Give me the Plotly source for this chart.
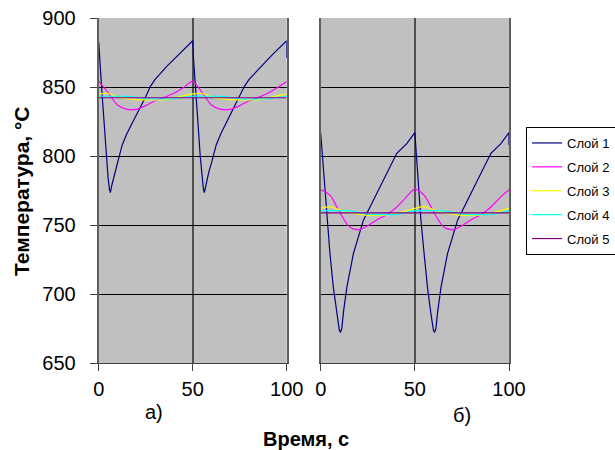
import plotly.graph_objects as go

# ---------------- data ----------------
series_names = ["Слой 1", "Слой 2", "Слой 3", "Слой 4", "Слой 5"]
series_colors = ["#000080", "#FF00FF", "#FFFF00", "#00FFFF", "#800080"]

x_ticks = [0, 50, 100]
y_ticks = [650, 700, 750, 800, 850, 900]

# Panel a) - layer 1 (fine time steps)
t1_a = [0, 0.4, 1.2, 2, 3, 4, 5, 5.7, 6.2, 7, 8.5, 10.4, 12.5, 14.9, 17.5, 20.2, 22.5, 25, 27.5, 30,
        33, 36.2, 40, 43.2, 46.5, 50,
        50.4, 51.2, 52, 53, 54, 55, 55.7, 56.2, 57, 58.5, 60.4, 62.5, 64.9, 67.5, 70.2, 72.5, 75, 77.5, 80,
        83, 86.2, 90, 93.2, 96.5, 100, 100]
T1_a = [882.5, 871, 857, 841, 820, 800, 784, 776, 773.5, 779, 788, 797, 808, 816, 823, 830, 836, 843, 850.5, 855.5,
        860, 865, 870, 874.5, 879, 883.5,
        871, 857, 841, 820, 800, 784, 776, 773.5, 779, 788, 797, 808, 816, 823, 830, 836, 843, 850.5, 855.5,
        860, 865, 870, 874.5, 879, 883.5, 871]

# Panel b) - layer 1
t1_b = [0, 0.3, 1.4, 3.2, 4.9, 6.7, 8.5, 9.9, 10.5, 11.2, 12.1, 13.9, 17.4, 22.7, 26.2, 31.5, 36.8, 40.4, 45.7, 50,
        50.3, 51.4, 53.2, 54.9, 56.7, 58.5, 59.9, 60.5, 61.2, 62.1, 63.9, 67.4, 72.7, 76.2, 81.5, 86.8, 90.4, 95.7,
        100, 100]
T1_b = [816.5, 811, 790, 754, 729.5, 705, 686, 673.5, 672.5, 675, 687, 705, 729.5, 753.5, 763, 778, 792, 802, 809, 817,
        811, 790, 754, 729.5, 705, 686, 673.5, 672.5, 675, 687, 705, 729.5, 753.5, 763, 778, 792, 802, 809,
        817, 808]

# Layers 2-5 on a common time grid
t_s = [0, 5, 10, 15, 20, 25, 30, 35, 40, 45, 50, 55, 60, 65, 70, 75, 80, 85, 90, 95, 100]

T2_a = [854, 846, 837, 833.8, 833.8, 836.5, 840, 842.5, 845.5, 849.5, 854,
        846, 837, 833.8, 833.8, 836.5, 840, 842.5, 845.5, 849.5, 854]
T3_a = [845, 845.3, 842.8, 841.5, 840.8, 840.6, 840.6, 840.9, 842, 843.6, 845,
        845.3, 842.8, 841.5, 840.8, 840.6, 840.6, 840.9, 842, 843.6, 845]
T4_a = [843.3, 843.3, 843.3, 843.2, 842.5, 841.5, 841.3, 841.3, 841.5, 842.5, 843.3,
        843.3, 843.3, 843.2, 842.5, 841.5, 841.3, 841.3, 841.5, 842.5, 843.3]
T5_a = [842.2, 842.2, 842.2, 842.2, 842.2, 842.2, 842.2, 842.2, 842.2, 842.2, 842.2,
        842.2, 842.2, 842.2, 842.2, 842.2, 842.2, 842.2, 842.2, 842.2, 842.2]

T2_b = [775.5, 771.5, 759.5, 749, 746.5, 749.5, 753.8, 757.5, 762.5, 769.5, 776,
        771.5, 759.5, 749, 746.5, 749.5, 753.8, 757.5, 762.5, 769.5, 775.5]
T3_b = [762, 763.3, 761, 759.3, 757.8, 757, 757, 757.3, 758.5, 760, 762,
        763.3, 761, 759.3, 757.8, 757, 757, 757.3, 758.5, 760, 762]
T4_b = [760.4, 760.4, 760.4, 760.2, 759.2, 758, 757.5, 757.5, 757.7, 758.8, 760.4,
        760.4, 760.4, 760.2, 759.2, 758, 757.5, 757.5, 757.7, 758.8, 760.4]
T5_b = [758.8, 758.8, 758.8, 758.8, 758.8, 758.8, 758.8, 758.8, 758.8, 758.8, 758.8,
        758.8, 758.8, 758.8, 758.8, 758.8, 758.8, 758.8, 758.8, 758.8, 758.8]

panel_labels = ["а)", "б)"]
x_title = "Время, с"
y_title = "Температура, °С"

# ---------------- figure ----------------
FONT = "Arial, Liberation Sans, sans-serif"
fig = go.Figure()

panel_a = [(t1_a, T1_a), (t_s, T2_a), (t_s, T3_a), (t_s, T4_a), (t_s, T5_a)]
panel_b = [(t1_b, T1_b), (t_s, T2_b), (t_s, T3_b), (t_s, T4_b), (t_s, T5_b)]

for i, (tt, vv) in enumerate(panel_a):
    fig.add_trace(go.Scatter(
        x=tt, y=vv, mode="lines", name=series_names[i],
        line=dict(color=series_colors[i], width=1.2, shape="linear" if i == 0 else "spline",
                  smoothing=0.8),
        legendgroup=series_names[i], showlegend=True, xaxis="x", yaxis="y"))
for i, (tt, vv) in enumerate(panel_b):
    fig.add_trace(go.Scatter(
        x=tt, y=vv, mode="lines", name=series_names[i],
        line=dict(color=series_colors[i], width=1.2, shape="linear" if i == 0 else "spline",
                  smoothing=0.8),
        legendgroup=series_names[i], showlegend=False, xaxis="x2", yaxis="y2"))

y_dom = [1 - 363 / 450, 1 - 18 / 450]
xa_dom = [98.7 / 615, 286.7 / 615]
xb_dom = [320.7 / 615, 509 / 615]

xcommon = dict(range=[0, 100], tickvals=x_ticks, showgrid=True, gridcolor="#505050", gridwidth=2,
               showline=True, linecolor="#404040", linewidth=1, ticks="outside", ticklen=7,
               tickcolor="#404040", zeroline=False, tickfont=dict(family=FONT, size=20, color="black"),
               ticklabelstandoff=1, fixedrange=True, automargin=False)
ycommon = dict(range=[650, 900], tickvals=y_ticks, showgrid=True, gridcolor="black", gridwidth=1,
               showline=True, mirror=True, linecolor="#606060", linewidth=2, zeroline=False,
               fixedrange=True, automargin=False)

def ann(text, x, y, size=20, angle=0):
    return dict(text=text, x=x / 615, y=1 - y / 450, xref="paper", yref="paper",
                xanchor="center", yanchor="middle", showarrow=False, textangle=angle,
                font=dict(family=FONT, size=size, color="black"))

fig.update_layout(
    width=615, height=450,
    margin=dict(l=0, r=0, t=0, b=0, autoexpand=False),
    paper_bgcolor="white", plot_bgcolor="#C0C0C0",
    xaxis=dict(domain=xa_dom, anchor="y", **xcommon),
    xaxis2=dict(domain=xb_dom, anchor="y2", **xcommon),
    yaxis=dict(domain=y_dom, anchor="x", ticks="outside", ticklen=7, tickcolor="#404040",
               tickfont=dict(family=FONT, size=20, color="black"), ticklabelstandoff=10, **ycommon),
    yaxis2=dict(domain=y_dom, anchor="x2", ticks="", showticklabels=False, **ycommon),
    showlegend=True,
    legend=dict(x=526 / 615, y=1 - 127 / 450, xanchor="left", yanchor="top",
                bgcolor="white", bordercolor="black", borderwidth=1,
                font=dict(family=FONT, size=13, color="black"),
                tracegroupgap=4, itemclick=False, itemdoubleclick=False),
    annotations=[
        ann(panel_labels[0], 154, 412),
        ann(panel_labels[1], 462, 415),
        ann("<b>" + x_title + "</b>", 306, 439),
        ann("<b>" + y_title + "</b>", 22, 191, size=21, angle=-90),
    ],
)

fig.write_html("out.html", config=dict(displayModeBar=False))
